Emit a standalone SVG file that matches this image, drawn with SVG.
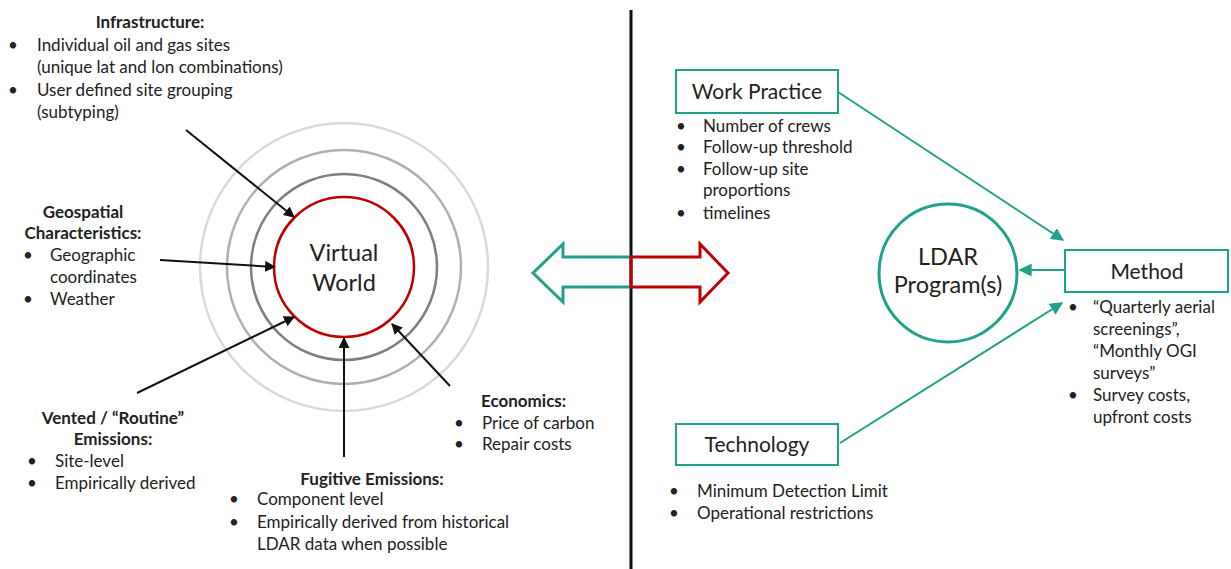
<svg xmlns="http://www.w3.org/2000/svg" width="1231" height="569" viewBox="0 0 1231 569">
<defs>
<style>
text{font-family:Lato,"Liberation Sans",sans-serif;font-size:17px;fill:#222}
.b{font-weight:bold}
.c{text-anchor:middle}
.big{font-size:21px}
.xl{font-size:23.5px}
.box{fill:#fff;stroke:#21a08a;stroke-width:2}
.blk{stroke:#111;stroke-width:2;fill:none}
.tl{stroke:#21a08a;stroke-width:2;fill:none}
</style>
<marker id="ab" viewBox="0 0 10 10" refX="9" refY="5" markerWidth="5.5" markerHeight="5.5" orient="auto" markerUnits="strokeWidth"><path d="M0,0 L10,5 L0,10 z" fill="#111"/></marker>
<marker id="at" viewBox="0 0 10 10" refX="9" refY="5" markerWidth="6.5" markerHeight="6.5" orient="auto" markerUnits="strokeWidth"><path d="M0,0 L10,5 L0,10 z" fill="#21a08a"/></marker>
</defs>
<rect width="1231" height="569" fill="#fff"/>
<line x1="631" y1="10" x2="631" y2="569" stroke="#111" stroke-width="3"/>

<g id="virtual-world">
<circle cx="344" cy="267" r="144" fill="none" stroke="#d9d9d9" stroke-width="2.5"/>
<circle cx="344" cy="267" r="117" fill="none" stroke="#b0b0b0" stroke-width="2.5"/>
<circle cx="344" cy="267" r="93" fill="none" stroke="#7f7f7f" stroke-width="2.5"/>
<circle cx="344" cy="267" r="70" fill="#fff" stroke="#c00000" stroke-width="2.5"/>
<text class="c xl" x="344" y="261">Virtual</text>
<text class="c xl" x="344" y="291">World</text>
</g>

<g id="infrastructure">
<text class="b c" x="150" y="28">Infrastructure:</text>
<text x="8" y="51">•</text><text x="37" y="51">Individual oil and gas sites</text>
<text x="37" y="73">(unique lat and lon combinations)</text>
<text x="8" y="96">•</text><text x="37" y="96">User defined site grouping</text>
<text x="37" y="118">(subtyping)</text>
</g>

<g id="geospatial">
<text class="b c" x="83" y="218">Geospatial</text>
<text class="b c" x="83" y="239">Characteristics:</text>
<text x="23" y="261">•</text><text x="50" y="261">Geographic</text>
<text x="50" y="283">coordinates</text>
<text x="23" y="305">•</text><text x="50" y="305">Weather</text>
</g>

<g id="vented">
<text class="b c" x="113" y="424">Vented / “Routine”</text>
<text class="b c" x="113" y="445">Emissions:</text>
<text x="27" y="467">•</text><text x="55" y="467">Site-level</text>
<text x="27" y="489">•</text><text x="55" y="489">Empirically derived</text>
</g>

<g id="fugitive">
<text class="b c" x="372" y="485">Fugitive Emissions:</text>
<text x="229" y="505">•</text><text x="257" y="505">Component level</text>
<text x="229" y="528">•</text><text x="257" y="528">Empirically derived from historical</text>
<text x="257" y="550">LDAR data when possible</text>
</g>

<g id="economics">
<text class="b" x="481" y="407">Economics:</text>
<text x="454" y="429">•</text><text x="482" y="429">Price of carbon</text>
<text x="454" y="450">•</text><text x="482" y="450">Repair costs</text>
</g>

<g id="double-arrow">
<path d="M631,257 L563,257 L563,244 L533,273 L563,302 L563,287 L631,287" fill="none" stroke="#21a08a" stroke-width="3" stroke-linejoin="miter"/>
<path d="M631,257 L700,257 L700,244 L728,273 L700,302 L700,287 L631,287 Z" fill="none" stroke="#c00000" stroke-width="3"/>
</g>

<g id="work-practice">
<rect class="box" x="676" y="70" width="162" height="43"/>
<text class="c big" x="757" y="99">Work Practice</text>
<text x="676" y="132">•</text><text x="703" y="132">Number of crews</text>
<text x="676" y="153">•</text><text x="703" y="153">Follow-up threshold</text>
<text x="676" y="175">•</text><text x="703" y="175">Follow-up site</text>
<text x="703" y="196">proportions</text>
<text x="676" y="219">•</text><text x="703" y="219">timelines</text>
</g>

<g id="ldar">
<circle cx="948" cy="273" r="69" fill="#fff" stroke="#21a08a" stroke-width="3"/>
<text class="c xl" x="948" y="265">LDAR</text>
<text class="c xl" x="948" y="293">Program(s)</text>
</g>

<g id="method">
<rect class="box" x="1065" y="250" width="163" height="42"/>
<text class="c big" x="1147" y="279">Method</text>
<text x="1068" y="313">•</text><text x="1093" y="313">“Quarterly aerial</text>
<text x="1093" y="335">screenings”,</text>
<text x="1093" y="357">“Monthly OGI</text>
<text x="1093" y="379">surveys”</text>
<text x="1068" y="401">•</text><text x="1093" y="401">Survey costs,</text>
<text x="1093" y="423">upfront costs</text>
</g>

<g id="technology">
<rect class="box" x="676" y="424" width="162" height="41"/>
<text class="c big" x="757" y="452">Technology</text>
<text x="669" y="497">•</text><text x="697" y="497">Minimum Detection Limit</text>
<text x="669" y="519">•</text><text x="697" y="519">Operational restrictions</text>
</g>

<g id="connectors">
<line class="blk" x1="186" y1="130" x2="294" y2="217" marker-end="url(#ab)"/>
<line class="blk" x1="160" y1="260" x2="275" y2="267" marker-end="url(#ab)"/>
<line class="blk" x1="137" y1="393" x2="294" y2="317" marker-end="url(#ab)"/>
<line class="blk" x1="344" y1="457" x2="344" y2="338" marker-end="url(#ab)"/>
<line class="blk" x1="450" y1="386" x2="392" y2="324" marker-end="url(#ab)"/>
<line class="tl" x1="838" y1="92" x2="1063" y2="240" marker-end="url(#at)"/>
<line class="tl" x1="1065" y1="270" x2="1020" y2="270" marker-end="url(#at)"/>
<line class="tl" x1="840" y1="443" x2="1062" y2="303" marker-end="url(#at)"/>
</g>
</svg>
